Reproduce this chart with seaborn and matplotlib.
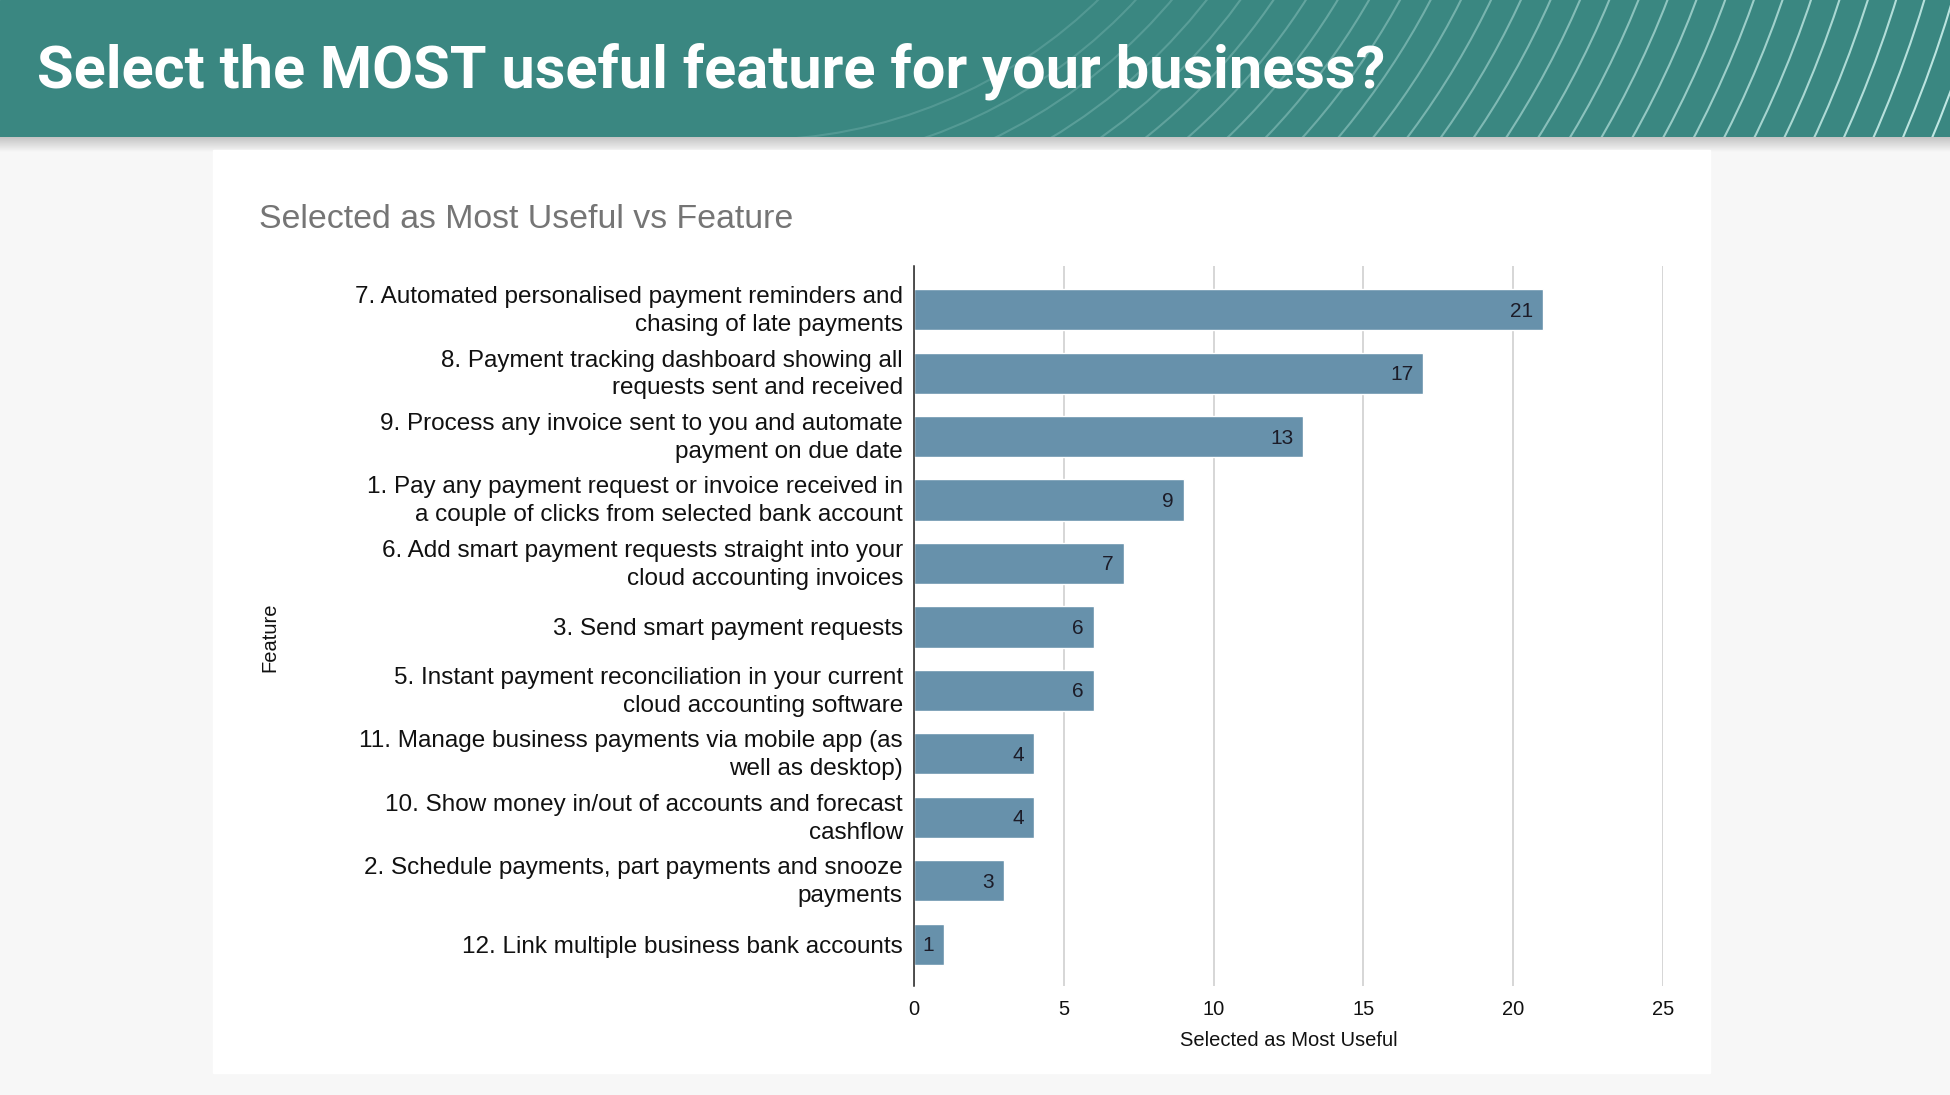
import numpy as np
import pandas as pd
import seaborn as sns
import matplotlib.pyplot as plt
import matplotlib.transforms as mtransforms
from matplotlib.colors import LinearSegmentedColormap
from matplotlib.patches import Rectangle, Arc

# data, top to bottom
features = [
    "7. Automated personalised payment reminders and\nchasing of late payments",
    "8. Payment tracking dashboard showing all\nrequests sent and received",
    "9. Process any invoice sent to you and automate\npayment on due date",
    "1. Pay any payment request or invoice received in\na couple of clicks from selected bank account",
    "6. Add smart payment requests straight into your\ncloud accounting invoices",
    "3. Send smart payment requests",
    "5. Instant payment reconciliation in your current\ncloud accounting software",
    "11. Manage business payments via mobile app (as\nwell as desktop)",
    "10. Show money in/out of accounts and forecast\ncashflow",
    "2. Schedule payments, part payments and snooze\npayments",
    "12. Link multiple business bank accounts",
]
counts = [21, 17, 13, 9, 7, 6, 6, 4, 4, 3, 1]
x_ticks = [0, 5, 10, 15, 20, 25]

page_title = "Select the MOST useful feature for your business?"
chart_title = "Selected as Most Useful vs Feature"
x_label = "Selected as Most Useful"
y_label = "Feature"

TEAL = "#3a8781"
BAR = "#6791ab"
W, H = 1950, 1095

sns.set_theme(style="white")
plt.rcParams["font.family"] = ["Liberation Sans", "DejaVu Sans"]

fig = plt.figure(figsize=(W / 100, H / 100), dpi=100, facecolor="#f7f7f7")

# page background: header band, shadow, white card (pixel coords)
bg = fig.add_axes([0, 0, 1, 1], zorder=0)
bg.set_xlim(0, W)
bg.set_ylim(H, 0)
bg.axis("off")

header = Rectangle((0, 0), W, 137, color=TEAL, zorder=1)
bg.add_patch(header)

# curved decorative lines on the right of the header
cx, cy = 753, -355
radii = np.arange(495, 1330, 27)
for i, r in enumerate(radii):
    a = 0.16 + 0.74 * (i / (len(radii) - 1)) ** 1.2
    arc = Arc((cx, cy), 2 * r, 2 * r, theta1=0, theta2=90,
              color="#d4f6f2", lw=1.5, alpha=a, zorder=2)
    bg.add_patch(arc)
    arc.set_clip_path(header)

shade = np.linspace(0, 1, 50).reshape(-1, 1)
bg.imshow(shade, extent=(0, W, 152, 137), aspect="auto", zorder=1,
          cmap=LinearSegmentedColormap.from_list("sh", ["#c4c4c4", "#f7f7f7"]))
bg.add_patch(Rectangle((213, 150), 1497, 923, color="white", zorder=1))

bg.text(37, 88, page_title, family=["Roboto", "DejaVu Sans"], weight="bold",
        fontsize=42.8, color="white", va="baseline", ha="left", zorder=3)

# chart
df = pd.DataFrame({"feature": features, "count": counts})
ax = fig.add_axes([914 / W, 1 - 986 / H, 749 / W, 720 / H], zorder=2)
ax.set_facecolor("none")
sns.barplot(data=df, x="count", y="feature", orient="h", color=BAR,
            saturation=1, width=0.65, ax=ax, zorder=3)

for p, v in zip(ax.patches, counts):
    ax.annotate(str(v), (p.get_width(), p.get_y() + p.get_height() / 2),
                xytext=(-7, -1), textcoords="offset points", ha="right",
                va="center", fontsize=15, color="#1c1c28", zorder=4)

ax.set_xlim(0, 25)
ax.set_ylim(10.66, -0.69)
ax.set_xticks(x_ticks)
ax.grid(axis="x", color="#cccccc", lw=1.1, zorder=0)
ax.grid(axis="y", visible=False)
for s in ["top", "right", "bottom"]:
    ax.spines[s].set_visible(False)
ax.spines["left"].set_color("#222222")
ax.spines["left"].set_linewidth(1.1)
ax.spines["left"].set_zorder(5)
ax.tick_params(axis="y", length=0, pad=8, labelsize=17.5, labelcolor="#111111")
ax.tick_params(axis="x", length=0, pad=10, labelsize=14.5, labelcolor="#111111")

# two-line labels sit a little high in the reference
lift = mtransforms.ScaledTranslation(0, 3 / 72, fig.dpi_scale_trans)
for t in ax.get_yticklabels():
    t.set_linespacing(1.35)
    if "\n" in t.get_text():
        t.set_transform(t.get_transform() + lift)

ax.set_xlabel(x_label, fontsize=14.5, color="#111111")
ax.xaxis.set_label_coords(0.5, -0.075)
ax.xaxis.label.set_va("center")
ax.set_ylabel(y_label, fontsize=14.5, color="#111111")
ax.yaxis.set_label_coords((270 - 914) / 749, (986 - 637) / 720)
ax.yaxis.label.set_va("center")

fig.text(259 / W, 1 - 219 / H, chart_title, fontsize=24.4, color="#757575",
         ha="left", va="center")

fig.savefig("out.png", dpi=100, facecolor=fig.get_facecolor())
